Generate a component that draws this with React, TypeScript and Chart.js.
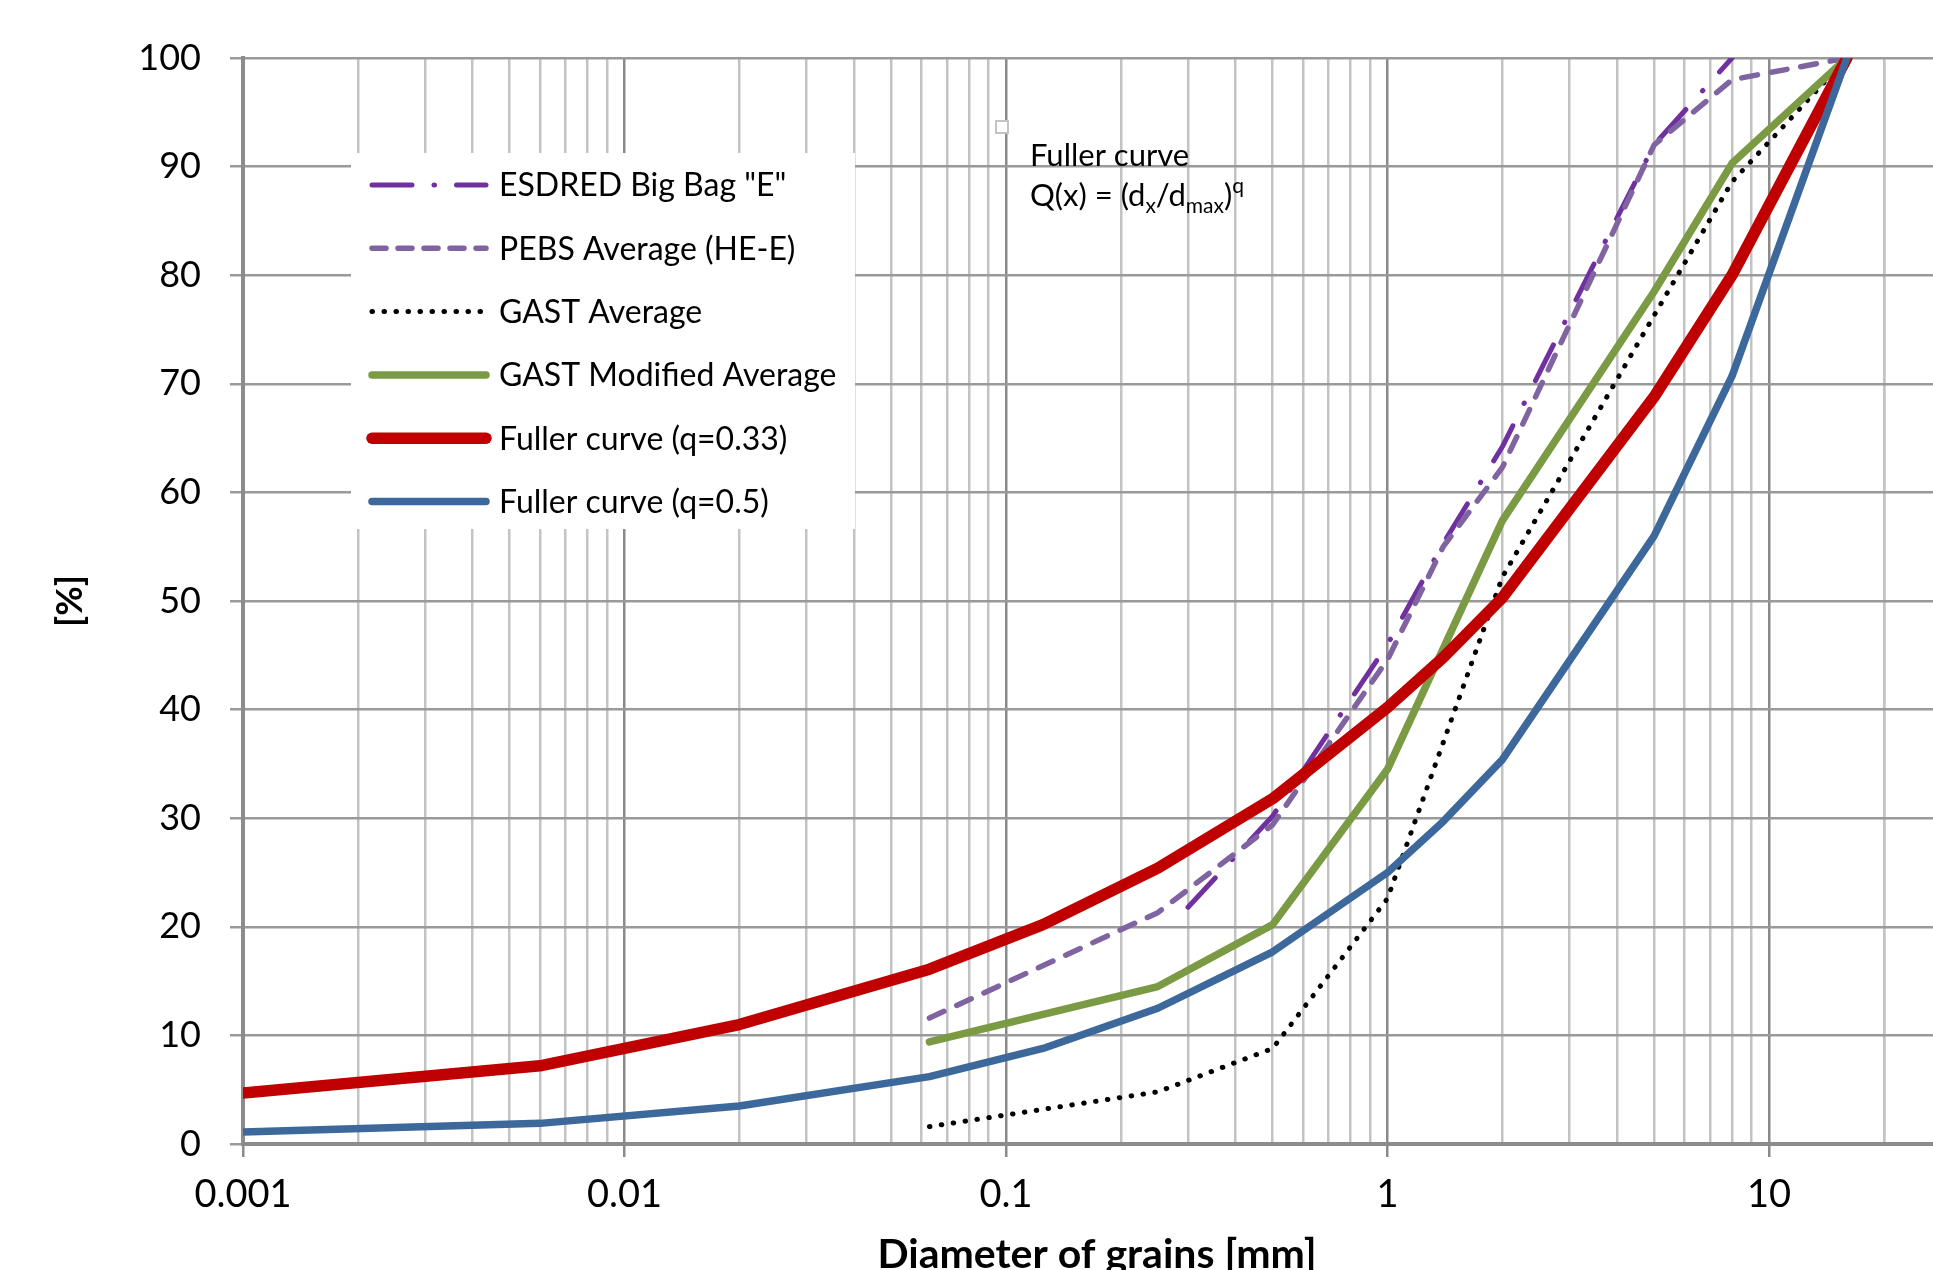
import React, { useEffect, useRef } from 'react';
import { Chart, registerables } from 'chart.js';

Chart.register(...registerables);

// ---- Data ----
const diamEsdred = [0.3, 0.5, 1, 1.4, 2, 4, 5, 8];
const esdred = [21.8, 30.2, 46.0, 55.3, 64.2, 85.3, 92.0, 100];

const diamPebs = [0.063, 0.25, 0.5, 1, 1.4, 2, 5, 8, 16];
const pebsAvg = [11.6, 21.3, 29.4, 44.6, 55.0, 62.3, 92.0, 98.0, 100];

const diamGast = [0.063, 0.25, 0.5, 1, 2, 5, 8, 16];
const gastAvg = [1.6, 4.8, 8.8, 22.6, 52.2, 76.3, 88.6, 100];

const diamGastMod = [0.063, 0.25, 0.5, 1, 2, 5, 8, 16];
const gastMod = [9.4, 14.5, 20.2, 34.5, 57.4, 78.5, 90.3, 100];

const diamFuller = [0.001, 0.006, 0.02, 0.063, 0.125, 0.25, 0.5, 1, 1.4, 2, 5, 8, 16];
const fuller033 = [4.7, 7.2, 11.0, 16.1, 20.2, 25.4, 31.8, 40.2, 44.8, 50.3, 68.8, 80.0, 100];
const fuller05 = [1.1, 1.9, 3.5, 6.2, 8.8, 12.5, 17.7, 25.0, 29.7, 35.4, 56.0, 70.7, 100];

const seriesLabels = [
  'ESDRED Big Bag "E"',
  'PEBS Average (HE-E)',
  'GAST Average',
  'GAST Modified Average',
  'Fuller curve (q=0.33)',
  'Fuller curve (q=0.5)',
];

const xDecades = [0.001, 0.01, 0.1, 1, 10];
const xTickLabels = ['0.001', '0.01', '0.1', '1', '10'];
const xMultipliers = [1, 2, 3, 4, 5, 6, 7, 8, 9];
const xMin = 0.001;
const xMax = 30;
const yMin = 0;
const yMax = 100;
const yStep = 10;

const annotationLine1 = 'Fuller curve';

const FONT = 'Lato, "Open Sans", sans-serif';
const W = 1990;
const H = 1300;

const pts = (xs: number[], ys: number[]) => xs.map((x, i) => ({ x, y: ys[i] }));

const isDecade = (v: number) => {
  const l = Math.log10(v);
  return Math.abs(l - Math.round(l)) < 1e-6;
};

const legendPlugin = {
  id: 'customLegend',
  afterDatasetsDraw(chart: any) {
    const ctx = chart.ctx as CanvasRenderingContext2D;
    ctx.save();
    // legend box
    ctx.fillStyle = '#ffffff';
    ctx.fillRect(351, 153, 504, 376);
    const rowY0 = 185;
    const rowStep = 63.3;
    chart.data.datasets.forEach((ds: any, i: number) => {
      const y = rowY0 + i * rowStep;
      ctx.save();
      ctx.beginPath();
      ctx.strokeStyle = ds.borderColor;
      ctx.lineWidth = ds.borderWidth;
      ctx.lineCap = 'round';
      ctx.setLineDash(ds.legendDash || ds.borderDash || []);
      ctx.moveTo(372, y);
      ctx.lineTo(486, y);
      ctx.stroke();
      ctx.restore();
      ctx.fillStyle = '#000';
      ctx.font = `32px ${FONT}`;
      ctx.textBaseline = 'middle';
      ctx.textAlign = 'left';
      ctx.fillText(ds.label, 499, y + 1);
    });

    // annotation: small marker square
    ctx.fillStyle = '#ffffff';
    ctx.strokeStyle = '#c4c4c4';
    ctx.lineWidth = 2;
    ctx.fillRect(996, 121, 12, 12);
    ctx.strokeRect(996, 121, 12, 12);

    // annotation text
    ctx.fillStyle = '#000';
    ctx.textBaseline = 'alphabetic';
    ctx.textAlign = 'left';
    const big = `31px ${FONT}`;
    const small = `21px ${FONT}`;
    ctx.font = big;
    ctx.fillText(annotationLine1, 1030, 166);
    let x = 1030;
    const base = 206;
    const parts: [string, string, number][] = [
      ['Q(x) = (d', big, 0],
      ['x', small, 7],
      ['/d', big, 0],
      ['max', small, 7],
      [')', big, 0],
      ['q', small, -13],
    ];
    parts.forEach(([t, f, dy]) => {
      ctx.font = f;
      ctx.fillText(t, x, base + dy);
      x += ctx.measureText(t).width;
    });
    ctx.restore();
  },
};

export default function App() {
  const canvasRef = useRef<HTMLCanvasElement | null>(null);

  useEffect(() => {
    let chart: Chart | null = null;
    let cancelled = false;
    const make = () => {
      if (cancelled || !canvasRef.current) return;
      const xTicks: number[] = [];
      xDecades.forEach((d) => xMultipliers.forEach((m) => {
        const v = +(d * m).toPrecision(6);
        if (v <= xMax) xTicks.push(v);
      }));
      xTicks.push(20, 30);
      const common = { pointRadius: 0, tension: 0, fill: false, borderCapStyle: 'round', borderJoinStyle: 'round', showLine: true };
      chart = new Chart(canvasRef.current, {
        type: 'line',
        data: {
          datasets: [
            { ...common, label: seriesLabels[0], data: pts(diamEsdred, esdred), borderColor: '#7030A0', borderWidth: 5, borderDash: [40, 25, 0.5, 25], legendDash: [40, 22, 0.5, 22], order: 5 } as any,
            { ...common, label: seriesLabels[1], data: pts(diamPebs, pebsAvg), borderColor: '#8064A2', borderWidth: 5.5, borderDash: [16, 14], legendDash: [14, 12], order: 4 } as any,
            { ...common, label: seriesLabels[2], data: pts(diamGast, gastAvg), borderColor: '#000000', borderWidth: 5, borderDash: [0.5, 11.5], order: 3 } as any,
            { ...common, label: seriesLabels[3], data: pts(diamGastMod, gastMod), borderColor: '#7B9A44', borderWidth: 7.5, order: 2 } as any,
            { ...common, label: seriesLabels[4], data: pts(diamFuller, fuller033), borderColor: '#C00000', borderWidth: 11.5, order: 1 } as any,
            { ...common, label: seriesLabels[5], data: pts(diamFuller, fuller05), borderColor: '#3C689B', borderWidth: 7.5, order: 0 } as any,
          ],
        },
        options: {
          animation: false,
          responsive: false,
          maintainAspectRatio: false,
          devicePixelRatio: 1,
          parsing: false,
          layout: { padding: { top: 58, right: W - 1951, left: 0, bottom: 0 } },
          plugins: { legend: { display: false }, tooltip: { enabled: false }, title: { display: false } },
          scales: {
            x: {
              type: 'logarithmic',
              min: xMin,
              max: xMax,
              afterBuildTicks: (s: any) => { s.ticks = xTicks.map((v) => ({ value: v })); },
              afterFit: (s: any) => { s.height = H - 1144; s.paddingLeft = 0; s.paddingRight = 0; },
              ticks: {
                autoSkip: false,
                maxRotation: 0,
                minRotation: 0,
                padding: 15,
                color: '#000',
                font: { family: FONT, size: 38 },
                callback: (v: any) => {
                  const idx = xDecades.findIndex((d) => Math.abs(d - Number(v)) / d < 1e-6);
                  return idx >= 0 ? xTickLabels[idx] : '';
                },
              },
              grid: {
                color: (c: any) => (c.tick && isDecade(c.tick.value) ? '#8a8a8a' : '#c3c3c3'),
                lineWidth: 2.5,
                tickLength: 13,
                tickWidth: 2.5,
                tickColor: (c: any) => (c.tick && isDecade(c.tick.value) ? '#8a8a8a' : 'rgba(0,0,0,0)'),
              },
              border: { display: true, color: '#8c8c8c', width: 4 },
              title: {
                display: true,
                text: 'Diameter of grains [mm]',
                color: '#000',
                font: { family: FONT, size: 41, weight: 'bold' },
                padding: { top: 0, bottom: 20.5 },
              },
            } as any,
            y: {
              type: 'linear',
              min: yMin,
              max: yMax,
              afterFit: (s: any) => { s.width = 243; s.paddingTop = 0; s.paddingBottom = 0; },
              ticks: {
                stepSize: yStep,
                padding: 29,
                color: '#000',
                font: { family: FONT, size: 36 },
              },
              grid: { color: '#9a9a9a', lineWidth: 2.5, tickLength: 13, tickWidth: 2.5, tickColor: '#9a9a9a' },
              border: { display: true, color: '#8c8c8c', width: 4 },
              title: {
                display: true,
                text: '[%]',
                color: '#000',
                font: { family: FONT, size: 36, weight: 'bold' },
                padding: { top: 48.4, bottom: 0 },
              },
            } as any,
          },
        } as any,
        plugins: [legendPlugin],
      });
    };
    const fontsReady = (document as any).fonts
      ? Promise.all([
          (document as any).fonts.load(`36px Lato`),
          (document as any).fonts.load(`bold 35px Lato`),
        ]).catch(() => null)
      : Promise.resolve(null);
    fontsReady.then(make);
    return () => {
      cancelled = true;
      if (chart) chart.destroy();
    };
  }, []);

  return (
    <div style={{ position: 'fixed', left: 0, top: 0, width: '1933px', height: '1270px', overflow: 'hidden', background: '#fff' }}>
      <canvas ref={canvasRef} width={W} height={H} style={{ display: 'block', width: `${W}px`, height: `${H}px` }} />
    </div>
  );
}
